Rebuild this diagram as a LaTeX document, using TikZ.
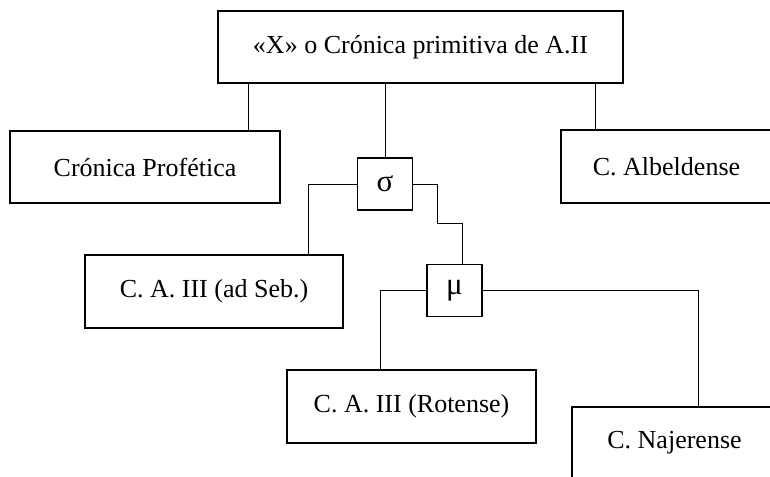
\documentclass[tikz,border=0pt]{standalone}
\usepackage{fontspec}
\setmainfont{Liberation Serif}
\begin{document}
\begin{tikzpicture}[x=1pt,y=-1pt,
  box/.style={draw=black,line width=1.1pt,inner sep=0pt,font=\fontsize{26}{30}\selectfont},
  small/.style={box,minimum width=55pt,minimum height=52pt,font=\fontsize{31}{34}\selectfont},
  link/.style={draw=black,line width=0.7pt}]
\useasboundingbox (0,0) rectangle (770,476);
\clip (0,0) rectangle (770,476);
\node[box,minimum width=405pt,minimum height=72pt] (top) at (420.5,47) {«X» o Crónica primitiva de A.II};
\node[box,minimum width=270pt,minimum height=72pt] (prof) at (145,167) {Crónica Profética};
\node[box,minimum width=211pt,minimum height=73pt] (alb) at (666.5,166.5) {C. Albeldense};
\node[small] (sigma) at (385,184) {σ};
\node[box,minimum width=258pt,minimum height=73pt] (seb) at (214,291.5) {C. A. III (ad Seb.)};
\node[small] (mu) at (454.5,290.5) {μ};
\node[box,minimum width=249pt,minimum height=73pt] (rot) at (411.5,406.5) {C. A. III (Rotense)};
\node[box,minimum width=205pt,minimum height=72pt] (naj) at (674.5,443) {C. Najerense};
\coordinate (xa) at (248,0);
\coordinate (xb) at (595,0);
\coordinate (xc) at (308,0);
\coordinate (xd) at (437,223);
\coordinate (xe) at (462,223);
\coordinate (xf) at (380,0);
\coordinate (xg) at (698,0);
\draw[link] (top.south -| xa) -- (prof.north -| xa);
\draw[link] (top.south -| sigma.north) -- (sigma.north);
\draw[link] (top.south -| xb) -- (alb.north -| xb);
\draw[link] (sigma.west) -| (seb.north -| xc);
\draw[link] (sigma.east) -| (xd) -- (xe) -- (mu.north -| xe);
\draw[link] (mu.west) -| (rot.north -| xf);
\draw[link] (mu.east) -| (naj.north -| xg);
\end{tikzpicture}
\end{document}
